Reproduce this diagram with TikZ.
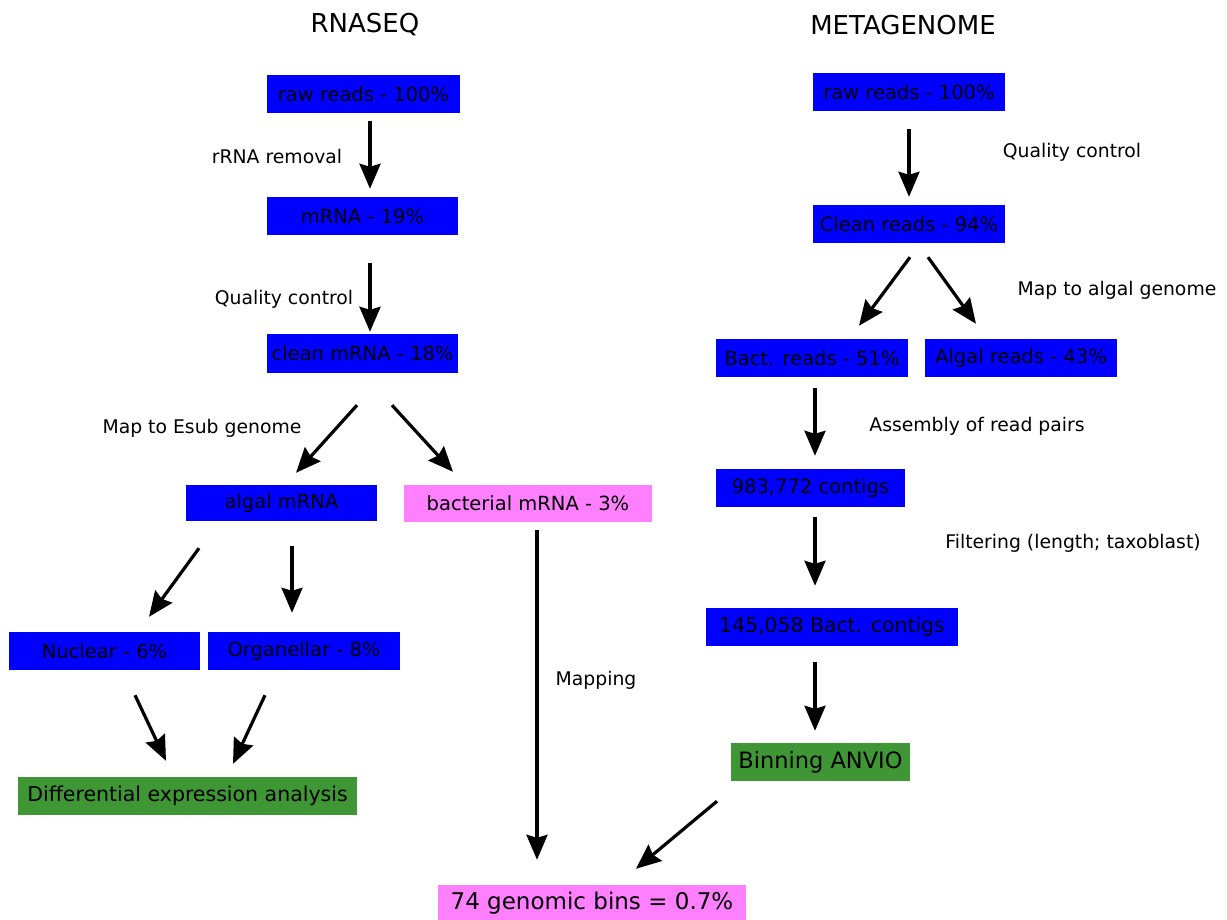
\documentclass[tikz,border=0pt]{standalone}
\usepackage{fontspec}
\setmainfont{DejaVu Sans}
\usetikzlibrary{arrows.meta,calc}

\definecolor{readblue}{RGB}{0,0,255}
\definecolor{binpink}{RGB}{255,128,255}
\definecolor{stepgreen}{RGB}{63,150,52}

\begin{document}
\begin{tikzpicture}[x=1pt,y=-1pt,
		box/.style={fill=readblue,inner sep=0pt,minimum height=38pt,font=\fontsize{19.5}{23}\selectfont},
		pinkbox/.style={box,fill=binpink},
		greenbox/.style={box,fill=stepgreen},
		lbl/.style={inner sep=0pt,font=\fontsize{18.8}{22}\selectfont},
		ttl/.style={inner sep=0pt,font=\fontsize{26}{30}\selectfont},
		arr/.style={line width=3.2pt,-{Stealth[length=25pt,width=21pt,inset=3pt]}}]
				\useasboundingbox (0,0) rectangle (1227,920);

				% Titles
				\node[ttl] (rnaseq) at (365,25) {RNASEQ};
				\node[ttl] (metagenome) at (903,25) {METAGENOME};

				% RNASEQ boxes
				\node[box,minimum width=193pt] (rraw) at (363.5,94) {raw reads - 100\%};
				\node[box,minimum width=191pt] (rmrna) at (362.5,216) {mRNA - 19\%};
				\node[box,minimum width=191pt,minimum height=39pt] (rclean) at (362.5,353.5) {clean mRNA - 18\%};
				\node[box,minimum width=191pt,minimum height=36pt] (algal) at (281.5,503) {algal mRNA};
				\node[pinkbox,minimum width=248pt,minimum height=37pt] (bactmrna) at (528,503.5) {bacterial mRNA - 3\%};
				\node[box,minimum width=191pt] (nuclear) at (104.5,651) {Nuclear - 6\%};
				\node[box,minimum width=192pt] (organ) at (304,651) {Organellar - 8\%};
				\node[greenbox,minimum width=339pt,font=\fontsize{20.5}{24}\selectfont] (diffexp) at (187.5,796) {Differential expression analysis};

				% METAGENOME boxes
				\node[box,minimum width=192pt] (mraw) at (909,92) {raw reads - 100\%};
				\node[box,minimum width=192pt] (mclean) at (909,224) {Clean reads - 94\%};
				\node[box,minimum width=192pt] (bactreads) at (812,358) {Bact. reads - 51\%};
				\node[box,minimum width=192pt] (algreads) at (1021,358) {Algal reads - 43\%};
				\node[box,minimum width=189pt] (contigs) at (810.5,488) {983,772 contigs};
				\node[box,minimum width=252pt,font=\fontsize{20.4}{24}\selectfont] (bcontigs) at (832,627) {145,058 Bact. contigs};
				\node[greenbox,minimum width=179pt,font=\fontsize{22.5}{26}\selectfont] (binning) at (820.5,762) {Binning ANVIO};

				% Shared result
				\node[pinkbox,minimum width=308pt,minimum height=36pt,font=\fontsize{23}{27}\selectfont] (bins) at (592,903) {74 genomic bins = 0.7\%};

				% Step labels
				\node[lbl] (rrnarem) at (277,156) {rRNA removal};
				\node[lbl] (rqc) at (284,299) {Quality control};
				\node[lbl] (esubmap) at (202,428) {Map to Esub genome};
				\node[lbl] (mapping) at (596,680) {Mapping};
				\node[lbl] (mqc) at (1072,152) {Quality control};
				\node[lbl] (algmap) at (1117,290) {Map to algal genome};
				\node[lbl] (assembly) at (977,426) {Assembly of read pairs};
				\node[lbl] (filtering) at (1073,543) {Filtering (length; taxoblast)};

				% RNASEQ arrows
				\draw[arr] ($(rraw.south)+(6.5,8)$) -- ($(rmrna.north)+(7.5,-8)$);
				\draw[arr] ($(rmrna.south)+(7.5,28)$) -- ($(rclean.north)+(7.5,-2)$);
				\draw[arr] ($(rclean.south)+(-5.5,32)$) -- ($(algal.north)+(14.5,-12)$);
				\draw[arr] ($(rclean.south)+(29.5,32)$) -- ($(bactmrna.north)+(-75,-13)$);
				\draw[arr] ($(algal.south)+(-82.5,27)$) -- ($(nuclear.north)+(44.5,-15)$);
				\draw[arr] ($(algal.south)+(10.5,25)$) -- ($(organ.north)+(-12,-19)$);
				\draw[arr] ($(nuclear.south)+(30.5,25)$) -- ($(diffexp.north)+(-21.5,-16)$);
				\draw[arr] ($(organ.south)+(-39,25)$) -- ($(diffexp.north)+(45.5,-13)$);
				\draw[arr] ($(bactmrna.south)+(9,8)$) -- ($(bins.north)+(-55,-25)$);

				% METAGENOME arrows
				\draw[arr] ($(mraw.south)+(0,18)$) -- ($(mclean.north)+(0,-8)$);
				\draw[arr] ($(mclean.south)+(1,14)$) -- ($(bactreads.north)+(47,-13)$);
				\draw[arr] ($(mclean.south)+(19,14)$) -- ($(algreads.north)+(-45,-15)$);
				\draw[arr] ($(bactreads.south)+(3,11)$) -- ($(contigs.north)+(4.5,-13)$);
				\draw[arr] ($(contigs.south)+(4.5,10)$) -- ($(bcontigs.north)+(-17,-22)$);
				\draw[arr] ($(bcontigs.south)+(-17,16)$) -- ($(binning.north)+(-5.5,-12)$);
				\draw[arr] ($(binning.south)+(-103.5,20)$) -- ($(bins.north)+(44,-16)$);
			\end{tikzpicture}
\end{document}
